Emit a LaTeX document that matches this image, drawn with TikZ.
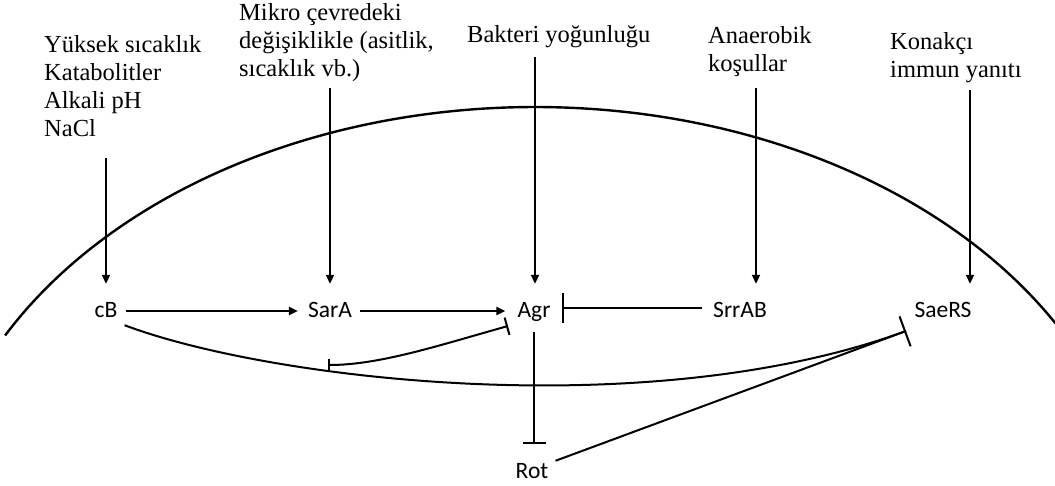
\documentclass[tikz,border=0pt]{standalone}
\usepackage{fontspec}
\setmainfont{Liberation Serif}
\newfontfamily\calib{Carlito}
\usetikzlibrary{arrows.meta}
\begin{document}
\begin{tikzpicture}[x=1pt,y=-1pt,
  lbl/.style={font=\fontsize{24.5}{28}\selectfont, align=left, anchor=base west, inner sep=0pt},
  gene/.style={font=\calib\fontsize{23.5}{26}\selectfont, anchor=base, inner xsep=7pt, inner ysep=2pt, text height=15pt, text depth=5pt},
  ln/.style={line width=2pt},
  act/.style={ln, -{Triangle[length=9pt,width=8pt]}},
  inh/.style={ln, -{Bar[width=#1,line width=2pt]}},
  inh/.default=30pt,
  arcline/.style={line width=2.4pt},
]
\useasboundingbox (0,0) rectangle (1055,486);

% membrane arc
\draw[arcline] plot[domain=-151.5:-30, samples=120, smooth] ({535+603*cos(\x)}, {544+437*sin(\x)});

% gene nodes
\node[gene] (cB) at (106,318) {cB};
\node[gene] (SarA) at (330,318) {SarA};
\node[gene] (Agr) at (534,318) {Agr};
\node[gene] (SrrAB) at (740,318) {SrrAB};
\node[gene] (SaeRS) at (943,318) {SaeRS};
\node[gene] (Rot) at (532,478) {Rot};

% signal labels (anchored at the baseline of their last line)
\node[lbl] (L1) at (44,137) {Yüksek sıcaklık\\Katabolitler\\Alkali pH\\NaCl};
\node[lbl] (L2) at (239,77) {Mikro çevredeki\\değişiklikle (asitlik,\\sıcaklık vb.)};
\node[lbl] (L3) at (467,43) {Bakteri yoğunluğu};
\node[lbl] (L4) at (708,72) {Anaerobik\\koşullar};
\node[lbl] (L5) at (890,78) {Konakçı\\immun yanıtı};

% tops of the vertical arrows
\coordinate (v1) at (106,158);
\coordinate (v2) at (330,88);
\coordinate (v3) at (535,57);
\coordinate (v4) at (756,88);
\coordinate (v5) at (970,90);

\draw[act, shorten >=17pt] (v1) -- (v1 |- cB.north);
\draw[act, shorten >=17pt] (v2) -- (v2 |- SarA.north);
\draw[act, shorten >=17pt] (v3) -- (v3 |- Agr.north);
\draw[act, shorten >=17pt] (v4) -- (v4 |- SrrAB.north);
\draw[act, shorten >=17pt] (v5) -- (v5 |- SaeRS.north);

% horizontal interactions
\draw[act, shorten <=1pt, shorten >=3pt] ([yshift=2pt]cB.east) -- ([yshift=2pt]SarA.west);
\draw[act, shorten <=1pt, shorten >=5pt] ([yshift=2pt]SarA.east) -- ([yshift=2pt]Agr.west);
\draw[inh, shorten <=4pt, shorten >=4pt] ([yshift=5pt]SrrAB.west) -- ([yshift=5pt]Agr.east);

% Agr -| Rot
\draw[inh=23pt, shorten <=7pt, shorten >=17pt] (Agr.south) -- (Agr.south |- Rot.north);

% junction at SaeRS
\coordinate (sb) at (906,331);
\draw[ln] (cB.south east) .. controls (270,380) and (650,425) .. (sb);
\draw[inh=32pt] (Rot.north east) -- (sb);

% branch inhibiting Agr
\coordinate (br) at (328,365);
\coordinate (agrb) at (508,326);
\draw[ln, {Bar[width=12pt,line width=2pt]}-{Bar[width=18pt,line width=2pt]}] (br) .. controls (380,365) and (440,345) .. (agrb);
\end{tikzpicture}
\end{document}
